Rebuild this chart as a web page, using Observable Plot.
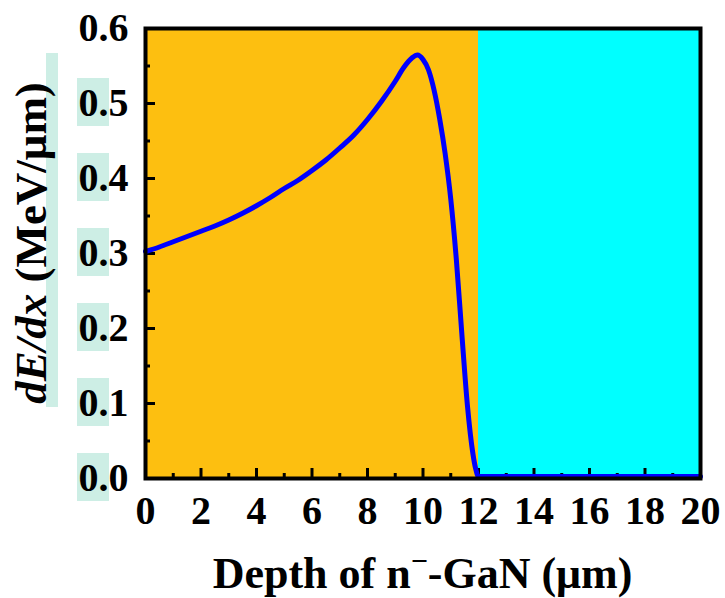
<!DOCTYPE html>
<html>
<head>
<meta charset="utf-8">
<script src="https://cdn.jsdelivr.net/npm/d3@7"></script>
<script src="https://cdn.jsdelivr.net/npm/@observablehq/plot@0.6"></script>
<style>
  html, body { margin: 0; padding: 0; background: #fff; }
</style>
</head>
<body>
<div id="chart"></div>
<script>
// Depth (µm) and stopping power dE/dx (MeV/µm)
const depth = [0, 0.5, 1, 1.5, 2, 2.5, 3, 3.5, 4, 4.5, 5, 5.5, 6, 6.5, 7, 7.5, 8, 8.5, 9, 9.3, 9.6, 9.8, 10.0, 10.2, 10.4, 10.6, 10.8, 11.0, 11.2, 11.4, 11.6, 11.8, 11.9, 12.0, 14, 16, 18, 20];
const dEdx  = [0.300, 0.306, 0.313, 0.320, 0.327, 0.334, 0.342, 0.351, 0.361, 0.372, 0.384, 0.395, 0.408, 0.422, 0.438, 0.455, 0.476, 0.500, 0.527, 0.545, 0.558, 0.562, 0.556, 0.542, 0.515, 0.477, 0.430, 0.370, 0.290, 0.190, 0.095, 0.030, 0.010, 0.000, 0.000, 0.000, 0.000, 0.000];

// Layer regions
const regionStart = [0, 12];
const regionEnd   = [12, 20];
const regionColor = ["#fdbf10", "#00ffff"];

// Ticks
const xMajor = [0, 2, 4, 6, 8, 10, 12, 14, 16, 18, 20];
const xMinor = [1, 3, 5, 7, 9, 11, 13, 15, 17, 19];
const yMajor = [0, 0.1, 0.2, 0.3, 0.4, 0.5, 0.6];
const yMinor = [0.05, 0.15, 0.25, 0.35, 0.45, 0.55];
const yHighlighted = [0, 0.1, 0.2, 0.3, 0.4, 0.5];

const xTitle = ["Depth of n", "\u2212", "-GaN (\u03bcm)"];
const yTitleItalic = "dE/dx";
const yTitleRest = " (MeV/\u03bcm)";

const curve = depth.map((d, i) => ({x: d, y: dEdx[i]}));
const regions = regionStart.map((s, i) => ({x1: s, x2: regionEnd[i], fill: regionColor[i]}));

const W = 725, H = 598;
const mL = 145, mR = 25, mT = 28, mB = 120;
const innerW = W - mL - mR, innerH = H - mT - mB;
const FONT = "'Liberation Serif', 'Times New Roman', serif";

const plot = Plot.plot({
  width: W, height: H,
  marginLeft: mL, marginRight: mR, marginTop: mT, marginBottom: mB,
  style: {fontFamily: FONT, fontSize: "40px", fontWeight: "bold", color: "#000", background: "#fff", overflow: "visible"},
  x: {domain: [0, 20]},
  y: {domain: [0, 0.6]},
  marks: [
    Plot.rect(regions, {x1: "x1", x2: "x2", y1: 0, y2: 0.6, fill: "fill"}),
    Plot.tickX(xMajor, {x: d => d, stroke: "#000", strokeWidth: 3, insetTop: innerH - 10}),
    Plot.tickX(xMinor, {x: d => d, stroke: "#000", strokeWidth: 3, insetTop: innerH - 5}),
    Plot.tickY(yMajor, {y: d => d, stroke: "#000", strokeWidth: 3, insetRight: innerW - 10}),
    Plot.tickY(yMinor, {y: d => d, stroke: "#000", strokeWidth: 3, insetRight: innerW - 5}),
    Plot.line(curve, {x: "x", y: "y", dy: -2, stroke: "#0000ff", strokeWidth: 5, curve: "monotone-x", strokeLinejoin: "round"}),
    Plot.frame({stroke: "#000", strokeWidth: 4}),
    Plot.axisX({ticks: xMajor, tickSize: 0, tickPadding: 17, label: null, tickFormat: d => String(d)}),
    Plot.axisY({ticks: yMajor, tickSize: 0, tickPadding: 17, label: null, tickFormat: d3.format(".1f")})
  ]
});

const svg = d3.select(plot);
const yS = plot.scale("y");
const xS = plot.scale("x");

// highlight boxes behind tick labels (inserted first, beneath everything)
const hl = svg.insert("g", ":first-child");
hl.selectAll("rect").data(yHighlighted).join("rect")
  .attr("x", 77).attr("width", 32)
  .attr("y", d => yS.apply(d) - 25).attr("height", 48)
  .attr("fill", "#cdeee5");
hl.append("rect").attr("x", 46).attr("width", 12).attr("y", 53).attr("height", 354).attr("fill", "#cdeee5");

// Y title
const yCenter = (yS.apply(0) + yS.apply(0.6)) / 2 - 10;
const yt = svg.append("text")
  .attr("transform", `translate(46,${yCenter}) rotate(-90)`)
  .attr("text-anchor", "middle")
  .attr("font-family", FONT).attr("font-weight", "bold").attr("font-size", 45).attr("fill", "#000");
yt.append("tspan").attr("font-style", "italic").text(yTitleItalic);
yt.append("tspan").text(yTitleRest);

// X title
const xCenter = (xS.apply(0) + xS.apply(20)) / 2;
const xt = svg.append("text")
  .attr("x", xCenter).attr("y", 588)
  .attr("text-anchor", "middle")
  .attr("font-family", FONT).attr("font-weight", "bold").attr("font-size", 44).attr("fill", "#000");
xt.append("tspan").text(xTitle[0]);
xt.append("tspan").attr("font-size", 30).attr("dy", -17).text(xTitle[1]);
xt.append("tspan").attr("dy", 17).text(xTitle[2]);

document.getElementById("chart").appendChild(plot);
</script>
</body>
</html>
